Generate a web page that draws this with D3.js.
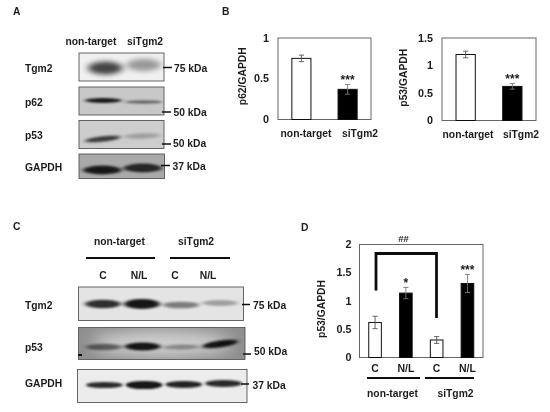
<!DOCTYPE html>
<html><head><meta charset="utf-8">
<script src="https://cdnjs.cloudflare.com/ajax/libs/d3/7.8.5/d3.min.js"></script>
<style>html,body{margin:0;padding:0;background:#fff}svg{display:block}
text{font-family:"Liberation Sans",Arial,sans-serif;font-weight:700;fill:#1c1c1c}</style>
</head><body><svg id="c" width="550" height="412"></svg>
<script>
// ---- data ----
const groupsB = ["non-target", "siTgm2"];
const p62Values = [0.75, 0.37];
const p62Errors = [0.04, 0.06];
const p53Values = [1.2, 0.62];
const p53Errors = [0.06, 0.05];
const p62Ticks = [0, 0.5, 1];
const p53Ticks = [0, 0.5, 1, 1.5];
const groupsD = ["C1", "N/L1", "C2", "N/L2"];
const labelsD = ["C", "N/L", "C", "N/L"];
const p53dValues = [0.62, 1.14, 0.31, 1.31];
const p53dErrors = [0.11, 0.1, 0.06, 0.16];
const p53dTicks = [0, 0.5, 1, 1.5, 2];
const sigB = ["", "***"];
const sigD = ["", "*", "", "***"];
// band darkness per lane, read from the blots
const blotA = { Tgm2: [0.72, 0.36], p62: [0.88, 0.5], p53: [0.72, 0.22], GAPDH: [0.85, 0.78] };
const blotC = { Tgm2: [0.8, 0.9, 0.45, 0.3], p53: [0.5, 0.9, 0.32, 0.9], GAPDH: [0.82, 0.92, 0.85, 0.82] };
const markersA = ["75 kDa", "50 kDa", "50 kDa", "37 kDa"];
const markersC = ["75 kDa", "50 kDa", "37 kDa"];

const svg = d3.select("#c");
const defs = svg.append("defs");
[["b1", 1.4, 1.0], ["b2", 2.4, 1.3], ["b3", 3.5, 2.6], ["soft", 0.42, 0.42], ["bg", 8, 8]].forEach(([id, sx, sy]) => {
  defs.append("filter").attr("id", id).attr("x", "-30%").attr("y", "-80%").attr("width", "160%").attr("height", "260%")
    .append("feGaussianBlur").attr("stdDeviation", sx + " " + sy);
});
const root = svg.append("g").attr("filter", "url(#soft)");
root.append("rect").attr("width", 550).attr("height", 412).attr("fill", "#fff");

function txt(x, y, s, size = 10.3, anchor = "start", rot = null) {
  const t = root.append("text").attr("x", x).attr("y", y).attr("font-size", size).attr("text-anchor", anchor).text(s);
  if (rot !== null) t.attr("transform", `rotate(${rot} ${x} ${y})`);
  return t;
}

// ---- western blot panels ----
let clipN = 0;
function blot(o) {
  const id = "clip" + (clipN++);
  defs.append("clipPath").attr("id", id).append("rect")
    .attr("x", o.x0).attr("y", o.y0).attr("width", o.x1 - o.x0).attr("height", o.y1 - o.y0);
  const g = root.append("g");
  const inner = g.append("g").attr("clip-path", `url(#${id})`);
  inner.append("rect").attr("x", o.x0).attr("y", o.y0).attr("width", o.x1 - o.x0).attr("height", o.y1 - o.y0).attr("fill", o.bg);
  if (o.glow) inner.append("ellipse").attr("cx", (o.x0 + o.x1) / 2).attr("cy", (o.y0 + o.y1) / 2)
    .attr("rx", (o.x1 - o.x0) * 0.42).attr("ry", (o.y1 - o.y0) * 0.4).attr("fill", o.glow).attr("filter", "url(#bg)");
  const band = d3.scaleBand().domain(d3.range(o.values.length)).range([o.l0, o.l1]).paddingInner(o.pad ?? 0.1);
  inner.selectAll(null).data(o.values).join("ellipse")
    .attr("cx", (d, i) => band(i) + band.bandwidth() / 2)
    .attr("cy", (d, i) => o.by + (o.dy ? o.dy[i] : 0))
    .attr("rx", band.bandwidth() / 2 * (o.rxk ?? 1))
    .attr("ry", (d, i) => o.h * (o.hk ? o.hk[i] : 1))
    .attr("fill", o.ink ?? "#000")
    .attr("opacity", d => d)
    .attr("filter", `url(#${o.f ?? "b2"})`)
    .attr("transform", (d, i) => {
      if (!o.tilt) return null;
      const cx = band(i) + band.bandwidth() / 2, cy = o.by + (o.dy ? o.dy[i] : 0);
      return `rotate(${o.tilt[i]} ${cx} ${cy})`;
    });
  g.append("rect").attr("x", o.x0).attr("y", o.y0).attr("width", o.x1 - o.x0).attr("height", o.y1 - o.y0)
    .attr("fill", "none").attr("stroke", "#555").attr("stroke-width", 0.9);
}
function tick(x0, x1, y) {
  root.append("line").attr("x1", x0).attr("x2", x1).attr("y1", y).attr("y2", y).attr("stroke", "#111").attr("stroke-width", 1.5);
}

// Panel A
txt(13, 15, "A");
txt(65.5, 45, "non-target");
txt(127, 45, "siTgm2");
blot({x0:79,x1:164,y0:53,y1:81,bg:"#f0f0f0",values:blotA.Tgm2,l0:88,l1:161,by:68,h:6.5,f:"b3",dy:[0,-3],hk:[1,.95]});
blot({x0:79,x1:164,y0:87,y1:115,bg:"#c8c8c8",values:blotA.p62,l0:85,l1:162,by:100.5,h:2.4,f:"b2",dy:[0,1.5],hk:[1,.7]});
blot({x0:79,x1:164,y0:120.5,y1:148.5,bg:"#cdcdcd",values:blotA.p53,l0:85,l1:160,by:138,h:2.8,f:"b2",tilt:[-6,-2],dy:[1,-2]});
blot({x0:79,x1:164.5,y0:154,y1:178.5,bg:"#a9a9a9",values:blotA.GAPDH,l0:83,l1:162,by:169,h:4.4,f:"b2",dy:[1,-1],pad:.05});
[["Tgm2",72],["p62",106],["p53",139],["GAPDH",171]].forEach(d => txt(25, d[1], d[0]));
tick(163, 172, 67.5); tick(162, 171, 112); tick(162, 171, 144); tick(161, 170, 165.5);
txt(174, 72, markersA[0]); txt(173.5, 116, markersA[1]); txt(173, 147, markersA[2]); txt(172.5, 170, markersA[3]);

// Panel C
txt(13, 230, "C");
txt(94, 245, "non-target");
txt(178, 245, "siTgm2");
root.append("line").attr("x1",86).attr("x2",155).attr("y1",258).attr("y2",258).attr("stroke","#111").attr("stroke-width",2.2);
root.append("line").attr("x1",170).attr("x2",230).attr("y1",258).attr("y2",258).attr("stroke","#111").attr("stroke-width",2.2);
[[103,"C"],[139,"N/L"],[175,"C"],[208,"N/L"]].forEach(d => txt(d[0], 279, d[1], 10.3, "middle"));
blot({x0:78.5,x1:243.5,y0:287,y1:320.5,bg:"#e4e4e4",values:blotC.Tgm2,l0:85,l1:238,by:304,h:4.2,f:"b2",pad:.08,dy:[0,0,1,-1],hk:[1,1.2,.8,.7]});
blot({x0:78.5,x1:245,y0:327.5,y1:359.5,bg:"#8e8e8e",glow:"#d2d2d2",values:blotC.p53,l0:86,l1:238,by:347,h:3.2,f:"b2",pad:.07,dy:[0,-.5,0,-3],tilt:[0,0,-1,-8],hk:[1,1.25,.8,1.1]});
blot({x0:77.5,x1:247,y0:369.5,y1:402.5,bg:"#ececec",values:blotC.GAPDH,l0:86,l1:242,by:384.5,h:3.4,f:"b1",pad:.07,dy:[.5,.5,0,-1],hk:[.9,1.2,1,1]});
root.append("rect").attr("x",78).attr("y",354).attr("width",4).attr("height",2).attr("fill","#111");
[["Tgm2",309],["p53",351],["GAPDH",387]].forEach(d => txt(25, d[1], d[0]));
tick(242, 250, 304.5); tick(243, 251, 354); tick(241, 249, 384);
txt(253, 309, markersC[0]); txt(254, 355, markersC[1]); txt(252.5, 389, markersC[2]);

// ---- bar panels ----
function barPanel(o) {
  const y = d3.scaleLinear().domain(o.domain).range([o.y1, o.y0]);
  const x = d3.scaleBand().domain(o.groups).range([o.x0, o.x1]).paddingInner(o.pi).paddingOuter(o.po);
  const g = root.append("g");
  g.append("rect").attr("x", o.x0).attr("y", o.y0).attr("width", o.x1 - o.x0).attr("height", o.y1 - o.y0)
    .attr("fill", "#fff").attr("stroke", "#666").attr("stroke-width", 1);
  g.selectAll(".bar").data(o.values).join("rect").attr("class", "bar")
    .attr("x", (d, i) => x(o.groups[i])).attr("y", d => y(d))
    .attr("width", x.bandwidth()).attr("height", d => y(0) - y(d))
    .attr("fill", (d, i) => o.fill(i)).attr("stroke", "#111").attr("stroke-width", 1);
  o.values.forEach((v, i) => {
    const cx = x(o.groups[i]) + x.bandwidth() / 2, e = o.errors[i];
    const col = i % 2 ? "#777" : "#555";
    g.append("line").attr("x1", cx).attr("x2", cx).attr("y1", y(v + e)).attr("y2", y(v - e)).attr("stroke", col).attr("stroke-width", .9);
    [v + e, v - e].forEach(w => g.append("line").attr("x1", cx - 2.6).attr("x2", cx + 2.6).attr("y1", y(w)).attr("y2", y(w)).attr("stroke", col).attr("stroke-width", .9));
    if (o.sig[i]) g.append("text").attr("x", cx).attr("y", y(v + e) - 0.5).attr("text-anchor", "middle")
      .attr("font-size", 12).text(o.sig[i]);
  });
  const fmt = d3.format("~g");
  g.selectAll(".tk").data(o.ticks).join("text").attr("class", "tk")
    .attr("x", o.x0 - o.tickGap).attr("y", d => y(d) + 3.6).attr("text-anchor", "end")
    .attr("font-size", 10.8).text(d => fmt(d));
  txt(o.ylabX, (o.y0 + o.y1) / 2 + (o.ylabDy ?? 0), o.ylabel, 10.3, "middle", -90);
  return { x, y };
}
const whiteBlack = i => i % 2 ? "#000" : "#fff";
txt(222, 15, "B");
barPanel({x0:278,x1:371,y0:38,y1:119.5,domain:[0,1],groups:groupsB,values:p62Values,errors:p62Errors,fill:whiteBlack,
  pi:0.587,po:0.3,ticks:p62Ticks,tickGap:9,ylabel:"p62/GAPDH",ylabX:246,ylabDy:-2.5,sig:sigB});
txt(306,136.5,groupsB[0],10.3,"middle"); txt(360,136.5,groupsB[1],10.3,"middle");
barPanel({x0:442,x1:536,y0:38,y1:120.5,domain:[0,1.5],groups:groupsB,values:p53Values,errors:p53Errors,fill:whiteBlack,
  pi:0.587,po:0.3,ticks:p53Ticks,tickGap:9,ylabel:"p53/GAPDH",ylabX:407,ylabDy:-1.5,sig:sigB});
txt(468,137.5,groupsB[0],10.3,"middle"); txt(521,137.5,groupsB[1],10.3,"middle");

txt(301, 231, "D");
const d = barPanel({x0:359.5,x1:483,y0:244.5,y1:357.5,domain:[0,2],groups:groupsD,values:p53dValues,errors:p53dErrors,fill:whiteBlack,
  pi:0.59,po:0.3,ticks:p53dTicks,tickGap:8,ylabel:"p53/GAPDH",ylabX:325,ylabDy:8,sig:sigD});
labelsD.forEach((l, i) => txt(d.x(groupsD[i]) + d.x.bandwidth() / 2, 372, l, 10.5, "middle"));
root.append("line").attr("x1",367).attr("x2",420).attr("y1",378).attr("y2",378).attr("stroke","#111").attr("stroke-width",2.2);
root.append("line").attr("x1",425).attr("x2",474).attr("y1",378).attr("y2",378).attr("stroke","#111").attr("stroke-width",2.2);
txt(392.5,397,"non-target",10.3,"middle"); txt(455.5,397,"siTgm2",10.3,"middle");
root.append("path").attr("d","M376 290.5V253.5H436.5V318").attr("fill","none").attr("stroke","#111").attr("stroke-width",2.8);
txt(403.5,241.5,"##",9.5,"middle");
</script></body></html>
